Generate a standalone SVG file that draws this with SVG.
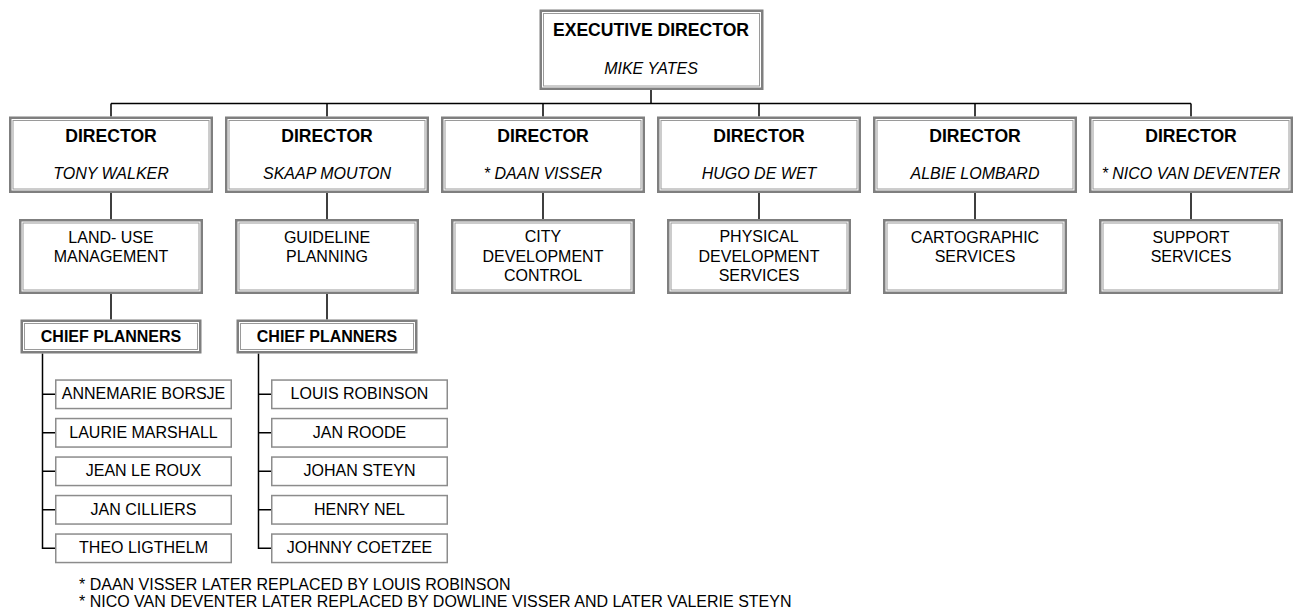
<svg xmlns="http://www.w3.org/2000/svg" width="1296" height="612" viewBox="0 0 1296 612">
<style>
.bg{fill:#ffffff}
.ob{fill:#ffffff;stroke:#7f7f7f;stroke-width:2.5}
.ib{fill:none;stroke:#9a9a9a;stroke-width:1}
.nb{fill:#ffffff;stroke:#8c8c8c;stroke-width:1.5}
.ln{fill:none;stroke:#000000;stroke-width:1.5}
text{font-family:"Liberation Sans",Arial,sans-serif;fill:#000000;text-anchor:middle}
.t{font-size:17.6px;font-weight:bold}
.c{font-size:16px;font-weight:bold}
.n{font-size:16px;font-style:italic}
.r{font-size:16px}
.f{font-size:16px;text-anchor:start}
</style>
<rect class="bg" x="0" y="0" width="1296" height="612"/>
<g id="connectors">
<path class="ln" d="M651 90V103.5M111 103.5H1191M111 103.5V116.5M327 103.5V116.5M543 103.5V116.5M759 103.5V116.5M975 103.5V116.5M1191 103.5V116.5"/>
<path class="ln" d="M111 193V219M327 193V219M543 193V219M759 193V219M975 193V219M1191 193V219"/>
<path class="ln" d="M111 294V319.5M327 294V319.5"/>
<path class="ln" d="M42.5 353.5V548.3H55M42.5 394.3H55M42.5 432.8H55M42.5 471.3H55M42.5 509.8H55"/>
<path class="ln" d="M258.5 353.5V548.3H271M258.5 394.3H271M258.5 432.8H271M258.5 471.3H271M258.5 509.8H271"/>
</g>
<g id="exec">
<rect class="ob" x="540.75" y="10.75" width="221.5" height="78"/>
<rect class="ib" x="543.5" y="13.5" width="216" height="72.5"/>
<text class="t" x="651" y="36">EXECUTIVE DIRECTOR</text>
<text class="n" x="651" y="74">MIKE YATES</text>
</g>
<g id="dir1">
<rect class="ob" x="10.25" y="117.75" width="201.5" height="74"/>
<rect class="ib" x="13" y="120.5" width="196" height="68.5"/>
<text class="t" x="111" y="141.7">DIRECTOR</text>
<text class="n" x="111" y="179.3">TONY WALKER</text>
</g>
<g id="dir2">
<rect class="ob" x="226.25" y="117.75" width="201.5" height="74"/>
<rect class="ib" x="229" y="120.5" width="196" height="68.5"/>
<text class="t" x="327" y="141.7">DIRECTOR</text>
<text class="n" x="327" y="179.3">SKAAP MOUTON</text>
</g>
<g id="dir3">
<rect class="ob" x="442.25" y="117.75" width="201.5" height="74"/>
<rect class="ib" x="445" y="120.5" width="196" height="68.5"/>
<text class="t" x="543" y="141.7">DIRECTOR</text>
<text class="n" x="543" y="179.3">* DAAN VISSER</text>
</g>
<g id="dir4">
<rect class="ob" x="658.25" y="117.75" width="201.5" height="74"/>
<rect class="ib" x="661" y="120.5" width="196" height="68.5"/>
<text class="t" x="759" y="141.7">DIRECTOR</text>
<text class="n" x="759" y="179.3">HUGO DE WET</text>
</g>
<g id="dir5">
<rect class="ob" x="874.25" y="117.75" width="201.5" height="74"/>
<rect class="ib" x="877" y="120.5" width="196" height="68.5"/>
<text class="t" x="975" y="141.7">DIRECTOR</text>
<text class="n" x="975" y="179.3">ALBIE LOMBARD</text>
</g>
<g id="dir6">
<rect class="ob" x="1090.25" y="117.75" width="201.5" height="74"/>
<rect class="ib" x="1093" y="120.5" width="196" height="68.5"/>
<text class="t" x="1191" y="141.7">DIRECTOR</text>
<text class="n" x="1191" y="179.3">* NICO VAN DEVENTER</text>
</g>
<g id="unit1">
<rect class="ob" x="20.25" y="220.25" width="181.5" height="72.5"/>
<rect class="ib" x="23" y="223" width="176" height="67"/>
<text class="r" x="111" y="242.5">LAND- USE</text>
<text class="r" x="111" y="262.2">MANAGEMENT</text>
</g>
<g id="unit2">
<rect class="ob" x="236.25" y="220.25" width="181.5" height="72.5"/>
<rect class="ib" x="239" y="223" width="176" height="67"/>
<text class="r" x="327" y="242.5">GUIDELINE</text>
<text class="r" x="327" y="262.2">PLANNING</text>
</g>
<g id="unit3">
<rect class="ob" x="452.25" y="220.25" width="181.5" height="72.5"/>
<rect class="ib" x="455" y="223" width="176" height="67"/>
<text class="r" x="543" y="242">CITY</text>
<text class="r" x="543" y="261.7">DEVELOPMENT</text>
<text class="r" x="543" y="281.2">CONTROL</text>
</g>
<g id="unit4">
<rect class="ob" x="668.25" y="220.25" width="181.5" height="72.5"/>
<rect class="ib" x="671" y="223" width="176" height="67"/>
<text class="r" x="759" y="242">PHYSICAL</text>
<text class="r" x="759" y="261.7">DEVELOPMENT</text>
<text class="r" x="759" y="281.2">SERVICES</text>
</g>
<g id="unit5">
<rect class="ob" x="884.25" y="220.25" width="181.5" height="72.5"/>
<rect class="ib" x="887" y="223" width="176" height="67"/>
<text class="r" x="975" y="242.5">CARTOGRAPHIC</text>
<text class="r" x="975" y="262.2">SERVICES</text>
</g>
<g id="unit6">
<rect class="ob" x="1100.25" y="220.25" width="181.5" height="72.5"/>
<rect class="ib" x="1103" y="223" width="176" height="67"/>
<text class="r" x="1191" y="242.5">SUPPORT</text>
<text class="r" x="1191" y="262.2">SERVICES</text>
</g>
<g id="chief1">
<rect class="ob" x="21.75" y="320.75" width="178.5" height="31.5"/>
<rect class="ib" x="24.5" y="323.5" width="173" height="26"/>
<text class="c" x="111" y="341.7">CHIEF PLANNERS</text>
</g>
<g id="chief2">
<rect class="ob" x="237.75" y="320.75" width="178.5" height="31.5"/>
<rect class="ib" x="240.5" y="323.5" width="173" height="26"/>
<text class="c" x="327" y="341.7">CHIEF PLANNERS</text>
</g>
<g id="p1"><rect class="nb" x="55.75" y="380.05" width="175.5" height="28.5"/><text class="r" x="143.5" y="399.3">ANNEMARIE BORSJE</text></g>
<g id="p2"><rect class="nb" x="55.75" y="418.55" width="175.5" height="28.5"/><text class="r" x="143.5" y="437.8">LAURIE MARSHALL</text></g>
<g id="p3"><rect class="nb" x="55.75" y="457.05" width="175.5" height="28.5"/><text class="r" x="143.5" y="476.3">JEAN LE ROUX</text></g>
<g id="p4"><rect class="nb" x="55.75" y="495.55" width="175.5" height="28.5"/><text class="r" x="143.5" y="514.8">JAN CILLIERS</text></g>
<g id="p5"><rect class="nb" x="55.75" y="534.05" width="175.5" height="28.5"/><text class="r" x="143.5" y="553.3">THEO LIGTHELM</text></g>
<g id="q1"><rect class="nb" x="271.75" y="380.05" width="175.5" height="28.5"/><text class="r" x="359.5" y="399.3">LOUIS ROBINSON</text></g>
<g id="q2"><rect class="nb" x="271.75" y="418.55" width="175.5" height="28.5"/><text class="r" x="359.5" y="437.8">JAN ROODE</text></g>
<g id="q3"><rect class="nb" x="271.75" y="457.05" width="175.5" height="28.5"/><text class="r" x="359.5" y="476.3">JOHAN STEYN</text></g>
<g id="q4"><rect class="nb" x="271.75" y="495.55" width="175.5" height="28.5"/><text class="r" x="359.5" y="514.8">HENRY NEL</text></g>
<g id="q5"><rect class="nb" x="271.75" y="534.05" width="175.5" height="28.5"/><text class="r" x="359.5" y="553.3">JOHNNY COETZEE</text></g>
<g id="notes">
<text class="f" x="79" y="590">* DAAN VISSER LATER REPLACED BY LOUIS ROBINSON</text>
<text class="f" x="79" y="606.5">* NICO VAN DEVENTER LATER REPLACED BY DOWLINE VISSER AND LATER VALERIE STEYN</text>
</g>
</svg>
